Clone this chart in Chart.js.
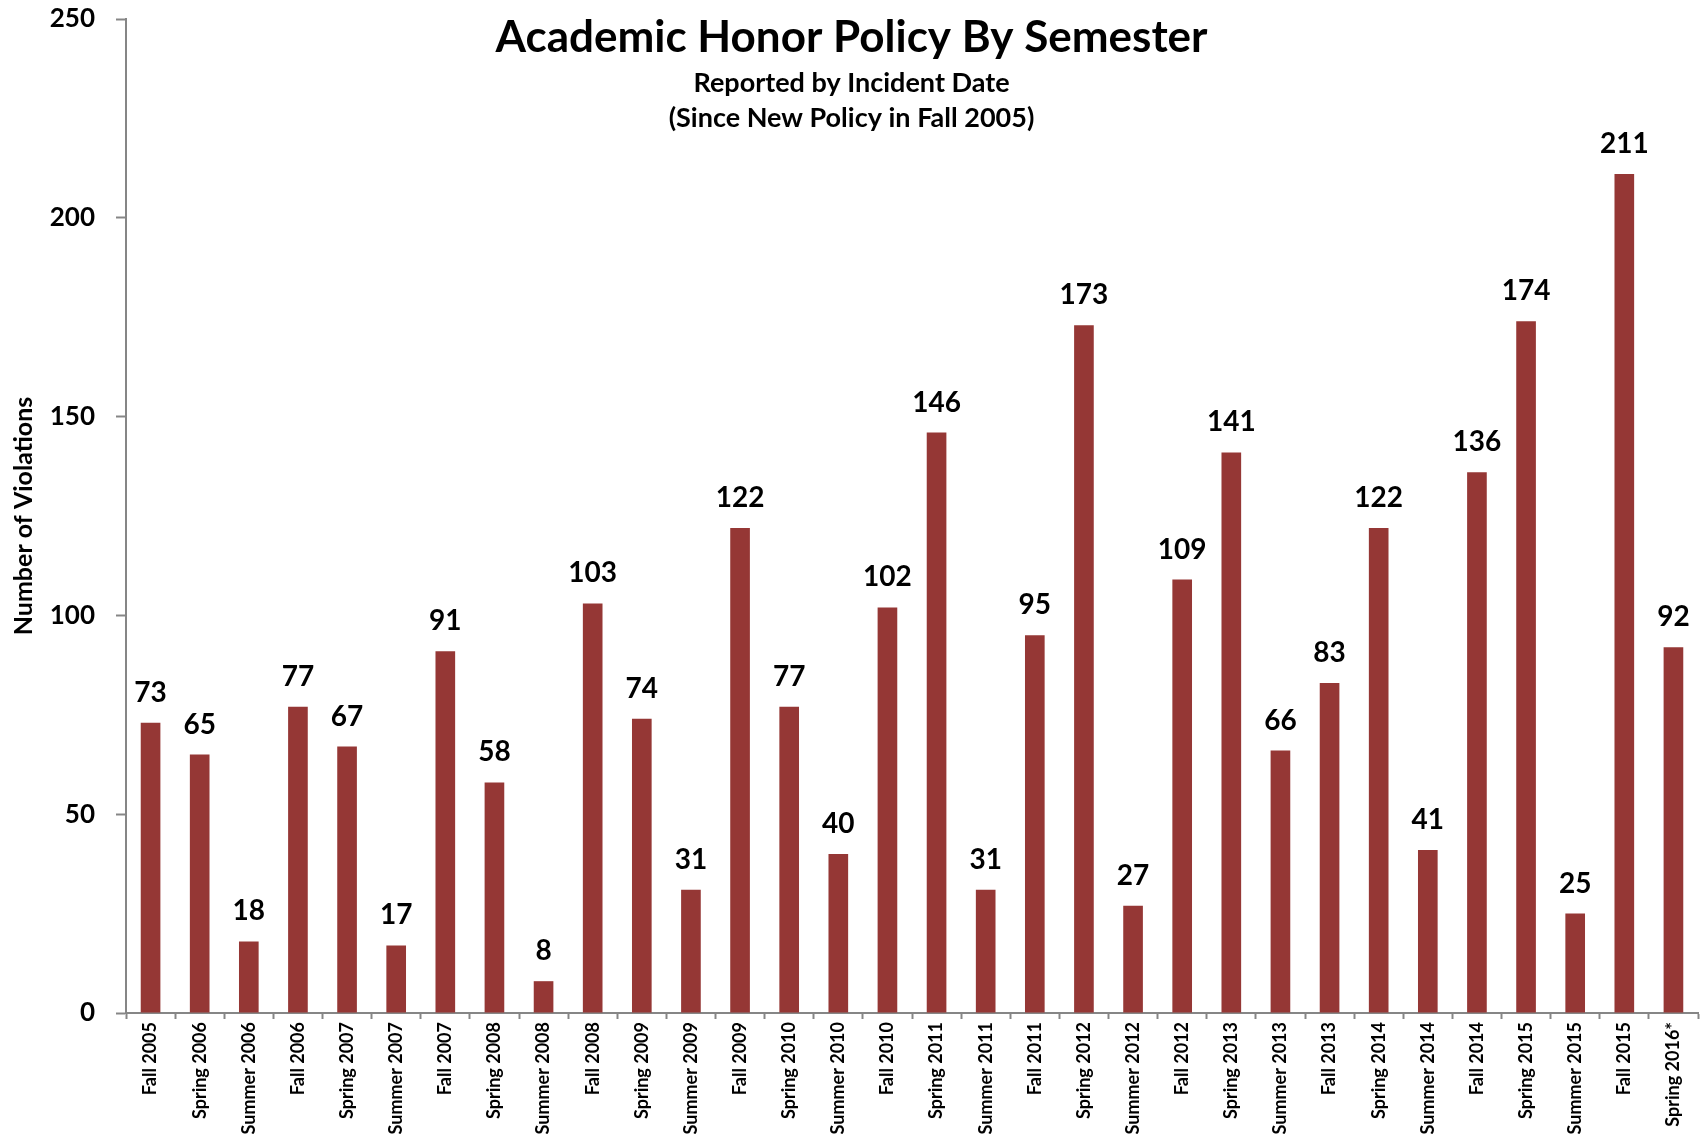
<!DOCTYPE html>
<html>
<head>
<meta charset="utf-8">
<title>Academic Honor Policy By Semester</title>
<script src="https://cdn.jsdelivr.net/npm/chart.js@4/dist/chart.umd.min.js"></script>
<style>
  html, body { margin: 0; padding: 0; background: #fff; }
  #wrap { width: 1703px; height: 1134px; position: relative; }
</style>
</head>
<body>
<div id="wrap"><canvas id="honor-chart"></canvas></div>
<script>
// semesters and violation counts
const semesters = [
    "Fall 2005", "Spring 2006", "Summer 2006", "Fall 2006", "Spring 2007", "Summer 2007",
    "Fall 2007", "Spring 2008", "Summer 2008", "Fall 2008", "Spring 2009", "Summer 2009",
    "Fall 2009", "Spring 2010", "Summer 2010", "Fall 2010", "Spring 2011", "Summer 2011",
    "Fall 2011", "Spring 2012", "Summer 2012", "Fall 2012", "Spring 2013", "Summer 2013",
    "Fall 2013", "Spring 2014", "Summer 2014", "Fall 2014", "Spring 2015", "Summer 2015",
    "Fall 2015", "Spring 2016*"
];
const violations = [
    73, 65, 18, 77, 67, 17,
    91, 58, 8, 103, 74, 31,
    122, 77, 40, 102, 146, 31,
    95, 173, 27, 109, 141, 66,
    83, 122, 41, 136, 174, 25,
    211, 92
];
const yTicks = [0, 50, 100, 150, 200, 250];

const titleLines = [
    "Academic Honor Policy By Semester",
    "Reported by Incident Date",
    "(Since New Policy in Fall 2005)"
];

const FONT = "Lato, 'Open Sans', sans-serif";
const axisGray = "#868686";

// title drawn over the plot area, like the original
const titlePlugin = {
    id: 'overTitle',
    afterDraw(chart) {
        const ctx = chart.ctx;
        const cx = chart.width / 2;
        ctx.save();
        ctx.fillStyle = '#000';
        ctx.textAlign = 'center';
        ctx.textBaseline = 'alphabetic';
        ctx.font = `bold 44px ${FONT}`;
        ctx.fillText(titleLines[0], cx, 52);
        ctx.font = `bold 27px ${FONT}`;
        ctx.fillText(titleLines[1], cx, 92);
        ctx.fillText(titleLines[2], cx, 127);
        ctx.restore();
    }
};

// value labels above each bar
const valueLabels = {
    id: 'valueLabels',
    afterDatasetsDraw(chart) {
        const ctx = chart.ctx;
        const meta = chart.getDatasetMeta(0);
        ctx.save();
        ctx.fillStyle = '#000';
        ctx.textAlign = 'center';
        ctx.textBaseline = 'alphabetic';
        ctx.font = `bold 28px ${FONT}`;
        meta.data.forEach((bar, i) => {
            ctx.fillText(String(violations[i]), bar.x, bar.y - 21);
        });
        ctx.restore();
    }
};

const ctx = document.getElementById('honor-chart').getContext('2d');
new Chart(ctx, {
    type: 'bar',
    data: {
        labels: semesters,
        datasets: [{
            data: violations,
            backgroundColor: "#953735",
            borderWidth: 0,
            barPercentage: 0.4,
            categoryPercentage: 1.0,
        }]
    },
    options: {
        responsive: true,
        maintainAspectRatio: false,
        animation: false,
        layout: { padding: { top: 19, right: 5, left: 0, bottom: 0 } },
        plugins: {
            legend: { display: false },
            tooltip: { enabled: false },
        },
        scales: {
            x: {
                grid: {
                    offset: true,
                    drawOnChartArea: false,
                    tickLength: 6,
                    tickColor: axisGray,
                    tickWidth: 2,
                },
                border: { color: axisGray, width: 2 },
                ticks: {
                    autoSkip: false,
                    minRotation: 90,
                    maxRotation: 90,
                    padding: 3,
                    color: '#000',
                    font: { family: FONT, weight: 'bold', size: 18 },
                },
                afterFit(scale) {
                    scale.height = 121;
                    scale.paddingLeft = 0;
                    scale.paddingRight = 0;
                },
            },
            y: {
                min: 0,
                max: 250,
                afterBuildTicks(scale) { scale.ticks = yTicks.map(v => ({ value: v })); },
                grid: {
                    drawOnChartArea: false,
                    tickLength: 10,
                    tickColor: axisGray,
                    tickWidth: 2,
                },
                border: { color: axisGray, width: 2 },
                ticks: {
                    padding: 21,
                    color: '#000',
                    font: { family: FONT, weight: 'bold', size: 26 },
                },
                title: {
                    display: true,
                    text: "Number of Violations",
                    color: '#000',
                    padding: { top: 9, bottom: 0 },
                    font: { family: FONT, weight: 'bold', size: 25 },
                },
                afterFit(scale) {
                    scale.width = 126;
                    scale.paddingTop = 0;
                    scale.paddingBottom = 0;
                },
            }
        }
    },
    plugins: [titlePlugin, valueLabels]
});
</script>
</body>
</html>
